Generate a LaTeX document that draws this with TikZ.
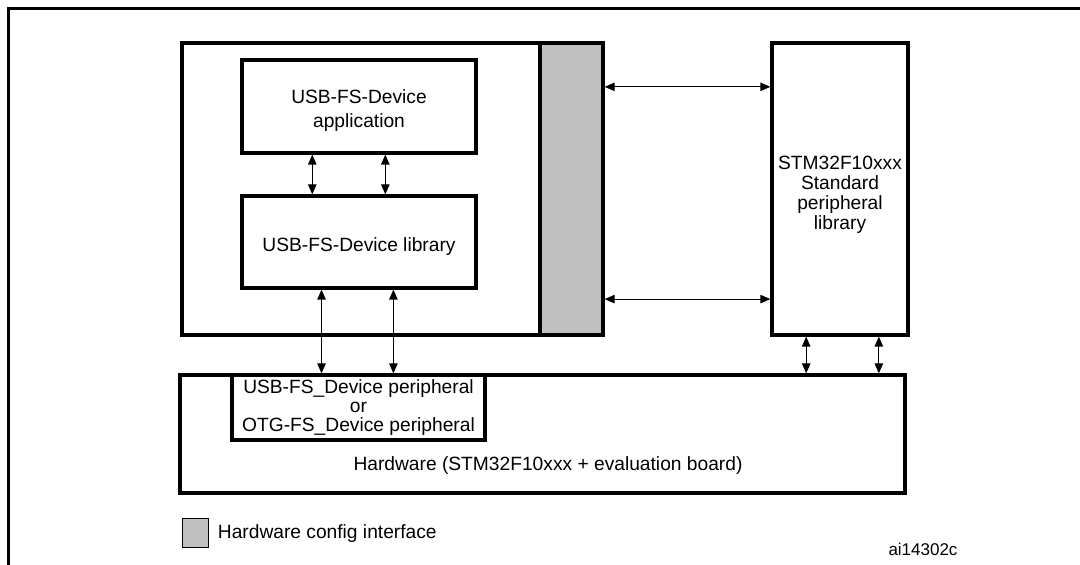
\documentclass[tikz,border=0pt]{standalone}
\usepackage{fontspec}
\setmainfont{Liberation Sans}
\usepackage{tikz}
\usetikzlibrary{positioning}
\usetikzlibrary{calc}
\usetikzlibrary{arrows.meta}
\definecolor{cfggrey}{HTML}{C0C0C0}
\tikzset{
  box/.style={draw, line width=1.6pt, fill=white, inner sep=0pt, align=center,
    font=\fontsize{9.6}{12}\selectfont},
  link/.style={{Triangle[length=5pt,width=4.2pt]}-{Triangle[length=5pt,width=4.2pt]}, line width=0.6pt},
  txt/.style={inner sep=0pt, font=\fontsize{9.6}{12}\selectfont}
}

\begin{document}
\begin{tikzpicture}[x=0.5pt, y=-0.5pt, line cap=butt, line join=miter]
            \useasboundingbox (0,0) rectangle (1080,565);

            % frame
            \draw[line width=1.5pt] (8,565) -- (8,9) -- (1080,9);

            % host box and config strip
            \node[box, minimum width=179pt, minimum height=146pt] (host) at (361,189) {};
            \node[box, fill=cfggrey, minimum width=31.5pt, minimum height=146pt] (cfg) at (571.5,189) {};

            % application and library
            \node[box, minimum width=117pt, minimum height=46.5pt] (app) at (359,106.5) {\rule{0pt}{11pt}USB-FS-Device\\application};
            \node[box, minimum width=117pt, minimum height=46pt] (lib) at (359,242) {\rule{0pt}{11pt}USB-FS-Device library};

            % standard peripheral library
            \node[box, minimum width=68pt, minimum height=146pt, font=\fontsize{9.6}{10}\selectfont] (stm) at (840,189) {\rule{0pt}{12pt}STM32F10xxx\\Standard\\peripheral\\library};

            % hardware
            \node[box, minimum width=362.5pt, minimum height=59pt] (hw) at (542.5,434) {};
            \node[txt, anchor=base] (hwtxt) at (548,471) {Hardware (STM32F10xxx + evaluation board)};
            \node[box, minimum width=126.5pt, minimum height=32.5pt, font=\fontsize{9.6}{9.7}\selectfont] (periph) at (358.5,407.5) {USB-FS\_Device peripheral\\or\\OTG-FS\_Device peripheral};

            % app <-> lib
            \draw[link] ($(app.south west)!0.303!(app.south east)$) coordinate (a1) -- (a1 |- lib.north);
            \draw[link] ($(app.south west)!0.611!(app.south east)$) coordinate (a2) -- (a2 |- lib.north);

            % lib <-> hardware
            \draw[link] ($(lib.south west)!0.342!(lib.south east)$) coordinate (b1) -- (b1 |- hw.north);
            \draw[link] ($(lib.south west)!0.645!(lib.south east)$) coordinate (b2) -- (b2 |- hw.north);

            % config strip <-> standard library
            \draw[link] ($(cfg.north east)!0.154!(cfg.south east)$) coordinate (c1) -- (c1 -| stm.west);
            \draw[link] ($(cfg.north east)!0.873!(cfg.south east)$) coordinate (c2) -- (c2 -| stm.west);

            % standard library <-> hardware
            \draw[link] ($(stm.south west)!0.257!(stm.south east)$) coordinate (d1) -- (d1 |- hw.north);
            \draw[link] ($(stm.south west)!0.779!(stm.south east)$) coordinate (d2) -- (d2 |- hw.north);

            % legend
            \node[draw, line width=0.5pt, fill=cfggrey, minimum width=13pt, minimum height=14.5pt, inner sep=0pt] (key) at (195,533.5) {};
            \node[txt, right=4.5pt of key] (keytxt) {Hardware config interface};
            \node[txt, font=\fontsize{8.5}{10}\selectfont] (ref) at (923,549) {ai14302c};
        \end{tikzpicture}
\end{document}
